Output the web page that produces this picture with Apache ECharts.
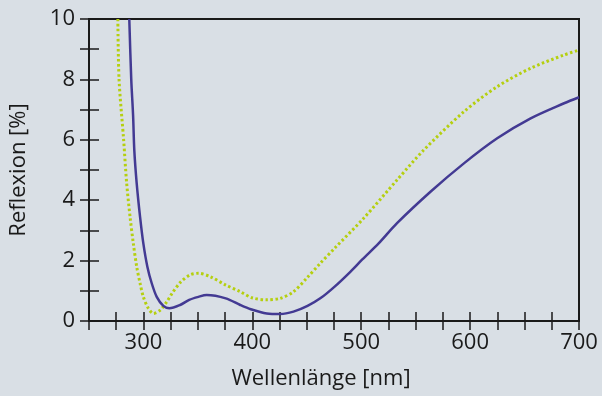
<!DOCTYPE html>
<html>
<head>
<meta charset="utf-8">
<script src="https://cdn.jsdelivr.net/npm/echarts@6/dist/echarts.min.js"></script>
<style>
  html, body { margin: 0; padding: 0; background: #d9dfe5; }
  #chart { width: 602px; height: 396px; }
</style>
</head>
<body>
<div id="chart"></div>
<script>
// wavelengths (nm) and reflexion (%)
const blueX = [287, 288.8, 290.5, 291.6, 293.8, 296.9, 299.9, 303.6, 307.6, 312.2, 318.3, 323.8, 333.7, 342, 350.5, 358.1, 375.6, 388.9, 398.6, 413.3, 425.6, 437.8, 450.7, 462.4, 475.6, 490, 501, 516, 532.9, 563.6, 594.3, 624.9, 655.6, 686.3, 700];
const blueY = [10, 8, 6.8, 5.66, 4.56, 3.45, 2.57, 1.8, 1.25, 0.8, 0.5, 0.42, 0.53, 0.7, 0.8, 0.86, 0.75, 0.53, 0.39, 0.25, 0.23, 0.31, 0.5, 0.75, 1.14, 1.63, 2.04, 2.57, 3.24, 4.28, 5.22, 6.05, 6.71, 7.21, 7.41];

const greenX = [276.5, 277.6, 281.8, 284.6, 287.7, 290.7, 293.8, 296.9, 299.9, 304.5, 309.2, 315.4, 321.5, 326, 333.7, 342.9, 350.5, 361.3, 375.6, 388.9, 399.7, 413.3, 425.6, 437.8, 450.7, 462.4, 475.6, 502.2, 532.9, 557.4, 594.3, 624.9, 655.6, 686.3, 700];
const greenY = [10, 8, 6, 4.56, 3.45, 2.57, 1.8, 1.25, 0.8, 0.42, 0.25, 0.36, 0.64, 0.9, 1.27, 1.53, 1.58, 1.47, 1.19, 0.97, 0.77, 0.7, 0.75, 0.97, 1.45, 1.91, 2.41, 3.4, 4.67, 5.66, 6.93, 7.76, 8.37, 8.81, 8.97];

const xLabels = [300, 400, 500, 600, 700];
const yLabels = [0, 2, 4, 6, 8, 10];

const pairs = (xs, ys) => xs.map((x, i) => [x, ys[i]]);

const font = "'Open Sans', sans-serif";
const ink = "#1a1a1a";

const chart = echarts.init(document.getElementById("chart"));

const xBase = { type: "value", min: 250, max: 700, interval: 25, splitLine: { show: false } };
const yBase = { type: "value", min: 0, max: 10, interval: 1, splitLine: { show: false } };

chart.setOption({
  backgroundColor: "#d9dfe5",
  animation: false,
  grid: {
    left: 89, right: 23, top: 19, bottom: 75,
    show: true, borderColor: ink, borderWidth: 2, backgroundColor: "transparent",
  },
  xAxis: [
    {
      ...xBase,
      name: "Wellenlänge [nm]",
      nameLocation: "middle",
      nameGap: 47,
      nameTextStyle: { color: ink, fontFamily: font, fontSize: 22, padding: [0, 26, 0, 0] },
      axisLine: { lineStyle: { color: ink, width: 2 } },
      axisTick: { length: 9, lineStyle: { color: ink, width: 1.5 } },
      axisLabel: {
        margin: 11, color: ink, fontFamily: font, fontSize: 22,
        formatter: (v) => (xLabels.includes(v) ? String(v) : ""),
      },
    },
    {
      ...xBase,
      position: "bottom",
      axisLine: { show: false },
      axisTick: { inside: true, length: 9, lineStyle: { color: ink, width: 1.5 } },
      axisLabel: { show: false },
    },
  ],
  yAxis: [
    {
      ...yBase,
      name: "Reflexion [%]",
      nameLocation: "middle",
      nameGap: 59,
      nameTextStyle: { color: ink, fontFamily: font, fontSize: 22 },
      axisLine: { lineStyle: { color: ink, width: 2 } },
      axisTick: { length: 9, lineStyle: { color: ink, width: 1.5 } },
      axisLabel: {
        margin: 14, color: ink, fontFamily: font, fontSize: 22,
        formatter: (v) => (yLabels.includes(v) ? String(v) : ""),
      },
    },
    {
      ...yBase,
      position: "left",
      axisLine: { show: false },
      axisTick: { inside: true, length: 10, lineStyle: { color: ink, width: 1.5 } },
      axisLabel: { show: false },
    },
  ],
  series: [
    {
      name: "grün",
      type: "line",
      xAxisIndex: 0,
      yAxisIndex: 0,
      data: pairs(greenX, greenY),
      smooth: 0.3,
      symbol: "none",
      lineStyle: { color: "#b5cf10", width: 3, type: [2.5, 2.5] },
    },
    {
      name: "blau",
      type: "line",
      xAxisIndex: 0,
      yAxisIndex: 0,
      data: pairs(blueX, blueY),
      smooth: 0.3,
      symbol: "none",
      lineStyle: { color: "#433a93", width: 2.5 },
    },
  ],
});
</script>
</body>
</html>
